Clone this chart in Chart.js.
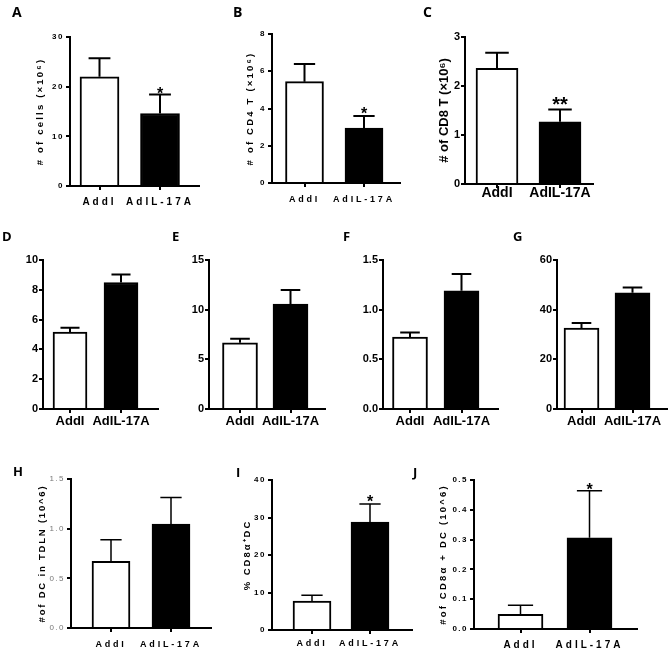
<!DOCTYPE html>
<html>
<head>
<meta charset="utf-8">
<script src="https://cdn.jsdelivr.net/npm/chart.js@4/dist/chart.umd.min.js"></script>
<style>
html, body { margin: 0; padding: 0; background: #fff; overflow: hidden; width: 668px; height: 653px; }
#fig { position: relative; width: 668px; height: 653px; overflow: hidden; }
#fig canvas { position: absolute; }
.lab { position: absolute; font: 700 14px/14px "Open Sans", sans-serif; color: #000; }
</style>
</head>
<body>
<div id="fig"></div>
<script>
const groups = ["AddI", "AdIL-17A"];

// A: total cells
const cellsMean = [22.0, 14.6];
const cellsSem = [3.7, 3.8];
const cellsSig = ["", "*"];
// B: CD4 T
const cd4Mean = [5.44, 2.95];
const cd4Sem = [0.95, 0.65];
const cd4Sig = ["", "*"];
// C: CD8 T
const cd8Mean = [2.36, 1.27];
const cd8Sem = [0.32, 0.25];
const cd8Sig = ["", "**"];
// D-G
const dMean = [5.17, 8.49];
const dSem = [0.29, 0.54];
const eMean = [6.67, 10.55];
const eSem = [0.41, 1.42];
const fMean = [0.725, 1.19];
const fSem = [0.044, 0.168];
const gMean = [32.6, 46.8];
const gSem = [2.05, 2.1];
// H: DC in TDLN
const dcMean = [0.671, 1.047];
const dcSem = [0.218, 0.268];
// I: % CD8a+ DC
const pctMean = [7.7, 28.8];
const pctSem = [1.6, 4.8];
const pctSig = ["", "*"];
// J: # CD8a+ DC
const cd8dcMean = [0.049, 0.306];
const cd8dcSem = [0.031, 0.158];
const cd8dcSig = ["", "*"];

const none = ["", ""];
const fig = document.getElementById("fig");
const SANS = '"Liberation Sans", Arial, sans-serif';

const errorBars = {
  id: "errorBars",
  afterDatasetsDraw(chart) {
    const ds = chart.data.datasets[0];
    const y = chart.scales.y;
    const ctx = chart.ctx;
    chart.getDatasetMeta(0).data.forEach((bar, i) => {
      const top = y.getPixelForValue(ds.data[i].y + ds.sem[i]);
      const half = bar.width * 0.28;
      ctx.save();
      ctx.strokeStyle = "#000";
      ctx.lineWidth = ds.errWidth;
      ctx.beginPath();
      ctx.moveTo(bar.x, bar.y);
      ctx.lineTo(bar.x, top);
      ctx.moveTo(bar.x - half, top);
      ctx.lineTo(bar.x + half, top);
      ctx.stroke();
      if (ds.sig[i]) {
        ctx.fillStyle = "#000";
        ctx.font = "bold " + ds.starSize + "px " + SANS;
        ctx.textAlign = "center";
        ctx.textBaseline = "alphabetic";
        ctx.fillText(ds.sig[i], bar.x, top + ds.starDy);
      }
      ctx.restore();
    });
  }
};

function spaced(scale, tickPx, titlePx) {
  if (scale._spaced) return;
  scale._spaced = true;
  const drawLabels = scale.drawLabels, drawTitle = scale.drawTitle;
  scale.drawLabels = function (area) {
    this.ctx.letterSpacing = tickPx + "px";
    drawLabels.call(this, area);
    this.ctx.letterSpacing = "0px";
  };
  scale.drawTitle = function () {
    this.ctx.letterSpacing = titlePx + "px";
    drawTitle.call(this);
    this.ctx.letterSpacing = "0px";
  };
}

const wide = { tick: 8, tickSp: 1.5, tickPad: 2, tickColor: "#000", tickWeight: "bold", xSize: 10, xSp: 3, titleSize: 9.5, titleSp: 2.2, starSize: 16, err: 2 };
const tight = { tick: 11, tickSp: 0, tickPad: 1, tickColor: "#000", tickWeight: "bold", xSize: 13, xSp: 0, titleSize: 13, titleSp: 0, starSize: 20, err: 2 };

const panels = [
  { mean: cellsMean, sem: cellsSem, sig: cellsSig, max: 30, step: 10, dec: 0, title: "# of cells (×10⁶)",
    L: 70, R: 199, T: 37, B: 186, c1: 99.5, c2: 160, w: 39, tx: 40, xPad: 6, starDy: 4.5, st: wide },
  { mean: cd4Mean, sem: cd4Sem, sig: cd4Sig, max: 8, step: 2, dec: 0, title: "# of CD4 T (×10⁶)",
    L: 272, R: 400, T: 34, B: 183, c1: 304.5, c2: 364, w: 38, tx: 250, xPad: 7, starDy: 3, st: { ...wide, xSize: 9, xSp: 2.8 } },
  { mean: cd8Mean, sem: cd8Sem, sig: cd8Sig, max: 3, step: 1, dec: 0, title: "# of CD8 T (×10⁶)",
    L: 465, R: 593, T: 37, B: 184, c1: 497, c2: 560, w: 42, tx: 444, xPad: -3, starDy: 1.2, st: { ...tight, xSize: 14 } },
  { mean: dMean, sem: dSem, sig: none, max: 10, step: 2, dec: 0, title: "",
    L: 43, R: 158, T: 260, B: 409, c1: 70, c2: 121, w: 34, tx: 0, xPad: 1, starDy: 0, st: tight },
  { mean: eMean, sem: eSem, sig: none, max: 15, step: 5, dec: 0, title: "",
    L: 209, R: 325, T: 260, B: 409, c1: 240, c2: 290.5, w: 35, tx: 0, xPad: 1, starDy: 0, st: tight },
  { mean: fMean, sem: fSem, sig: none, max: 1.5, step: 0.5, dec: 1, title: "",
    L: 383, R: 498, T: 260, B: 409, c1: 410, c2: 461.5, w: 35, tx: 0, xPad: 1, starDy: 0, st: tight },
  { mean: gMean, sem: gSem, sig: none, max: 60, step: 20, dec: 0, title: "",
    L: 557, R: 672, T: 260, B: 409, c1: 581.5, c2: 632.5, w: 35, tx: 0, xPad: 1, starDy: 0, st: tight },
  { mean: dcMean, sem: dcSem, sig: none, max: 1.5, step: 0.5, dec: 1, title: "#of DC in TDLN (10^6)",
    L: 71, R: 211, T: 479, B: 628, c1: 111, c2: 171, w: 38, tx: 42, xPad: 7, starDy: 0,
    st: { ...wide, tickColor: "#777", tickWeight: "normal", xSize: 9, xSp: 2.8, titleSp: 1.8, err: 1.5 } },
  { mean: pctMean, sem: pctSem, sig: pctSig, max: 40, step: 10, dec: 0, title: "% CD8α⁺DC",
    L: 272, R: 412, T: 480, B: 630, c1: 312, c2: 370, w: 38, tx: 247, xPad: 4, starDy: 3,
    st: { ...wide, xSize: 9, xSp: 2.8, titleSp: 2, err: 1.5 } },
  { mean: cd8dcMean, sem: cd8dcSem, sig: cd8dcSig, max: 0.5, step: 0.1, dec: 1, title: "#of CD8α + DC (10^6)",
    L: 474, R: 637, T: 480, B: 629, c1: 520.5, c2: 589.5, w: 45, tx: 443, xPad: 6, starDy: 4,
    st: { ...wide, err: 1.5 } }
];

const letters = [
  ["A", 12, 7, 14], ["B", 233, 7, 14], ["C", 423, 7, 14],
  ["D", 2, 232, 13], ["E", 172, 232, 13], ["F", 343, 232, 13], ["G", 513, 232, 13],
  ["H", 13, 467, 13], ["I", 236, 468, 13], ["J", 413, 468, 13]
];

function drawPanel(p) {
  const st = p.st;
  const yw = 60, xh = 40, padTop = 20, padRight = 10;
  const left = p.L - yw, top = p.T - padTop;
  const w = p.R + padRight - left, h = p.B + xh - top;
  const canvas = document.createElement("canvas");
  canvas.width = w;
  canvas.height = h;
  canvas.style.left = left + "px";
  canvas.style.top = top + "px";
  canvas.style.width = w + "px";
  canvas.style.height = h + "px";
  fig.appendChild(canvas);
  const span = p.c2 - p.c1;

  new Chart(canvas, {
    type: "bar",
    data: {
      datasets: [{
        data: p.mean.map((v, i) => ({ x: i, y: v })),
        sem: p.sem,
        sig: p.sig,
        errWidth: st.err,
        starSize: st.starSize,
        starDy: p.starDy,
        backgroundColor: ["#fff", "#000"],
        borderColor: "#000",
        borderWidth: 2,
        borderSkipped: "start",
        barThickness: p.w
      }]
    },
    options: {
      responsive: false,
      animation: false,
      events: [],
      layout: { padding: { top: padTop, right: padRight, left: 0, bottom: 0 } },
      plugins: { legend: { display: false }, tooltip: { enabled: false } },
      scales: {
        x: {
          type: "linear",
          bounds: "data",
          offset: false,
          min: -(p.c1 - p.L) / span,
          max: 1 + (p.R - p.c2) / span,
          afterBuildTicks: (s) => { s.ticks = [{ value: 0 }, { value: 1 }]; },
          afterFit: (s) => { s.height = xh; spaced(s, st.xSp, 0); },
          grid: { offset: false, drawOnChartArea: false, tickLength: 4, lineWidth: 2, color: "#000" },
          border: { color: "#000", width: 2 },
          ticks: {
            callback: (v) => groups[v],
            autoSkip: false, maxRotation: 0, minRotation: 0,
            padding: p.xPad,
            color: "#000",
            font: { family: SANS, size: st.xSize, weight: "bold" }
          }
        },
        y: {
          min: 0,
          max: p.max,
          afterFit: (s) => { s.width = yw; spaced(s, st.tickSp, st.titleSp); },
          grid: { drawOnChartArea: false, tickLength: 4, lineWidth: 2, color: "#000" },
          border: { color: "#000", width: 2 },
          ticks: {
            stepSize: p.step,
            padding: st.tickPad,
            color: st.tickColor,
            callback: (v) => v.toFixed(p.dec),
            font: { family: SANS, size: st.tick, weight: st.tickWeight }
          },
          title: {
            display: !!p.title,
            text: p.title,
            color: "#000",
            font: { family: SANS, size: st.titleSize, weight: "bold", lineHeight: 1 },
            padding: { top: p.tx - left - st.titleSize / 2, bottom: 0 }
          }
        }
      }
    },
    plugins: [errorBars]
  });
}

panels.forEach(drawPanel);

letters.forEach(([t, x, capTop, size]) => {
  const d = document.createElement("div");
  d.className = "lab";
  d.textContent = t;
  d.style.left = x + "px";
  d.style.top = (capTop - 0.174 * size) + "px";
  d.style.fontSize = size + "px";
  d.style.lineHeight = size + "px";
  fig.appendChild(d);
});
</script>
</body>
</html>
